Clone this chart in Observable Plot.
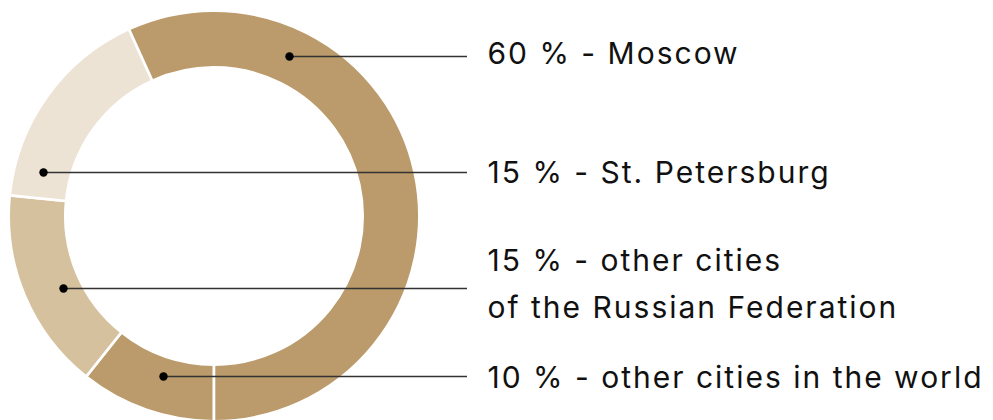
<!DOCTYPE html>
<html>
<head>
<meta charset="utf-8">
<script src="https://cdn.jsdelivr.net/npm/d3@7"></script>
<script src="https://cdn.jsdelivr.net/npm/@observablehq/plot@0.6"></script>
<style>
  html, body { margin: 0; padding: 0; background: #fff; }
  #chart svg { display: block; }
</style>
</head>
<body>
<div id="chart"></div>
<script>
// Categories in clockwise order starting at 6 o'clock
const categories = ["other cities in the world", "other cities of the Russian Federation", "St. Petersburg", "Moscow"];
// Share of the ring each arc occupies as drawn (percent)
const arcShares = [10.7, 15.9, 16.6, 56.8];
// Percent shown in the labels
const labelPercents = [10, 15, 15, 60];
const colors = ["#bb9b6b", "#d5c19d", "#ede3d5", "#bb9b6b"];

// Label text lines per category
const labelLines = [
  ["10 % - other cities in the world"],
  ["15 % - other cities", "of the Russian Federation"],
  ["15 % - St. Petersburg"],
  ["60 % - Moscow"]
];

// Layout (pixels)
const center = {x: 214, y: 216};
const outerR = 205.3, innerR = 148.7;
const leaderY = [376, 288, 172, 56];
const dotX = [163, 63, 43, 289];
const leaderEndX = 467;
const textX = 487;
const fontSize = 30;
const textBaselines = [[387], [270, 317], [182], [63]];

const pie = d3.pie().sort(null).value(d => d.share).startAngle(Math.PI).endAngle(3 * Math.PI);
const slices = pie(categories.map((c, i) => ({category: c, share: arcShares[i], color: colors[i]})));

const leaders = categories.map((c, i) => ({category: c, y: leaderY[i], x1: dotX[i], x2: leaderEndX}));
const texts = [];
labelLines.forEach((lines, i) => lines.forEach((t, j) => texts.push({text: t, x: textX, y: textBaselines[i][j] - 0.32 * fontSize})));

const donut = (index, scales) => {
  const arc = d3.arc().innerRadius(innerR).outerRadius(outerR);
  const g = d3.create("svg:g")
    .attr("transform", `translate(${scales.x(center.x)},${scales.y(center.y)})`);
  g.selectAll("path").data(slices).join("path")
    .attr("d", arc)
    .attr("fill", d => d.data.color)
    .attr("stroke", "#fff")
    .attr("stroke-width", 2.6)
    .attr("stroke-linejoin", "miter");
  return g.node();
};

const chart = Plot.plot({
  width: 993,
  height: 420,
  margin: 0,
  x: {domain: [0, 993], axis: null},
  y: {domain: [0, 420], range: [0, 420], axis: null},
  style: {fontFamily: "Inter, sans-serif", background: "#fff", letterSpacing: "2px"},
  marks: [
    donut,
    Plot.ruleY(leaders, {y: "y", x1: "x1", x2: "x2", stroke: "#333", strokeWidth: 1.5}),
    Plot.dot(leaders, {x: "x1", y: "y", r: 4.2, fill: "#000", stroke: null}),
    Plot.text(texts, {x: "x", y: "y", text: "text", textAnchor: "start", fontSize: fontSize, fill: "#111", fontWeight: 400})
  ]
});
document.getElementById("chart").appendChild(chart);
</script>
</body>
</html>
